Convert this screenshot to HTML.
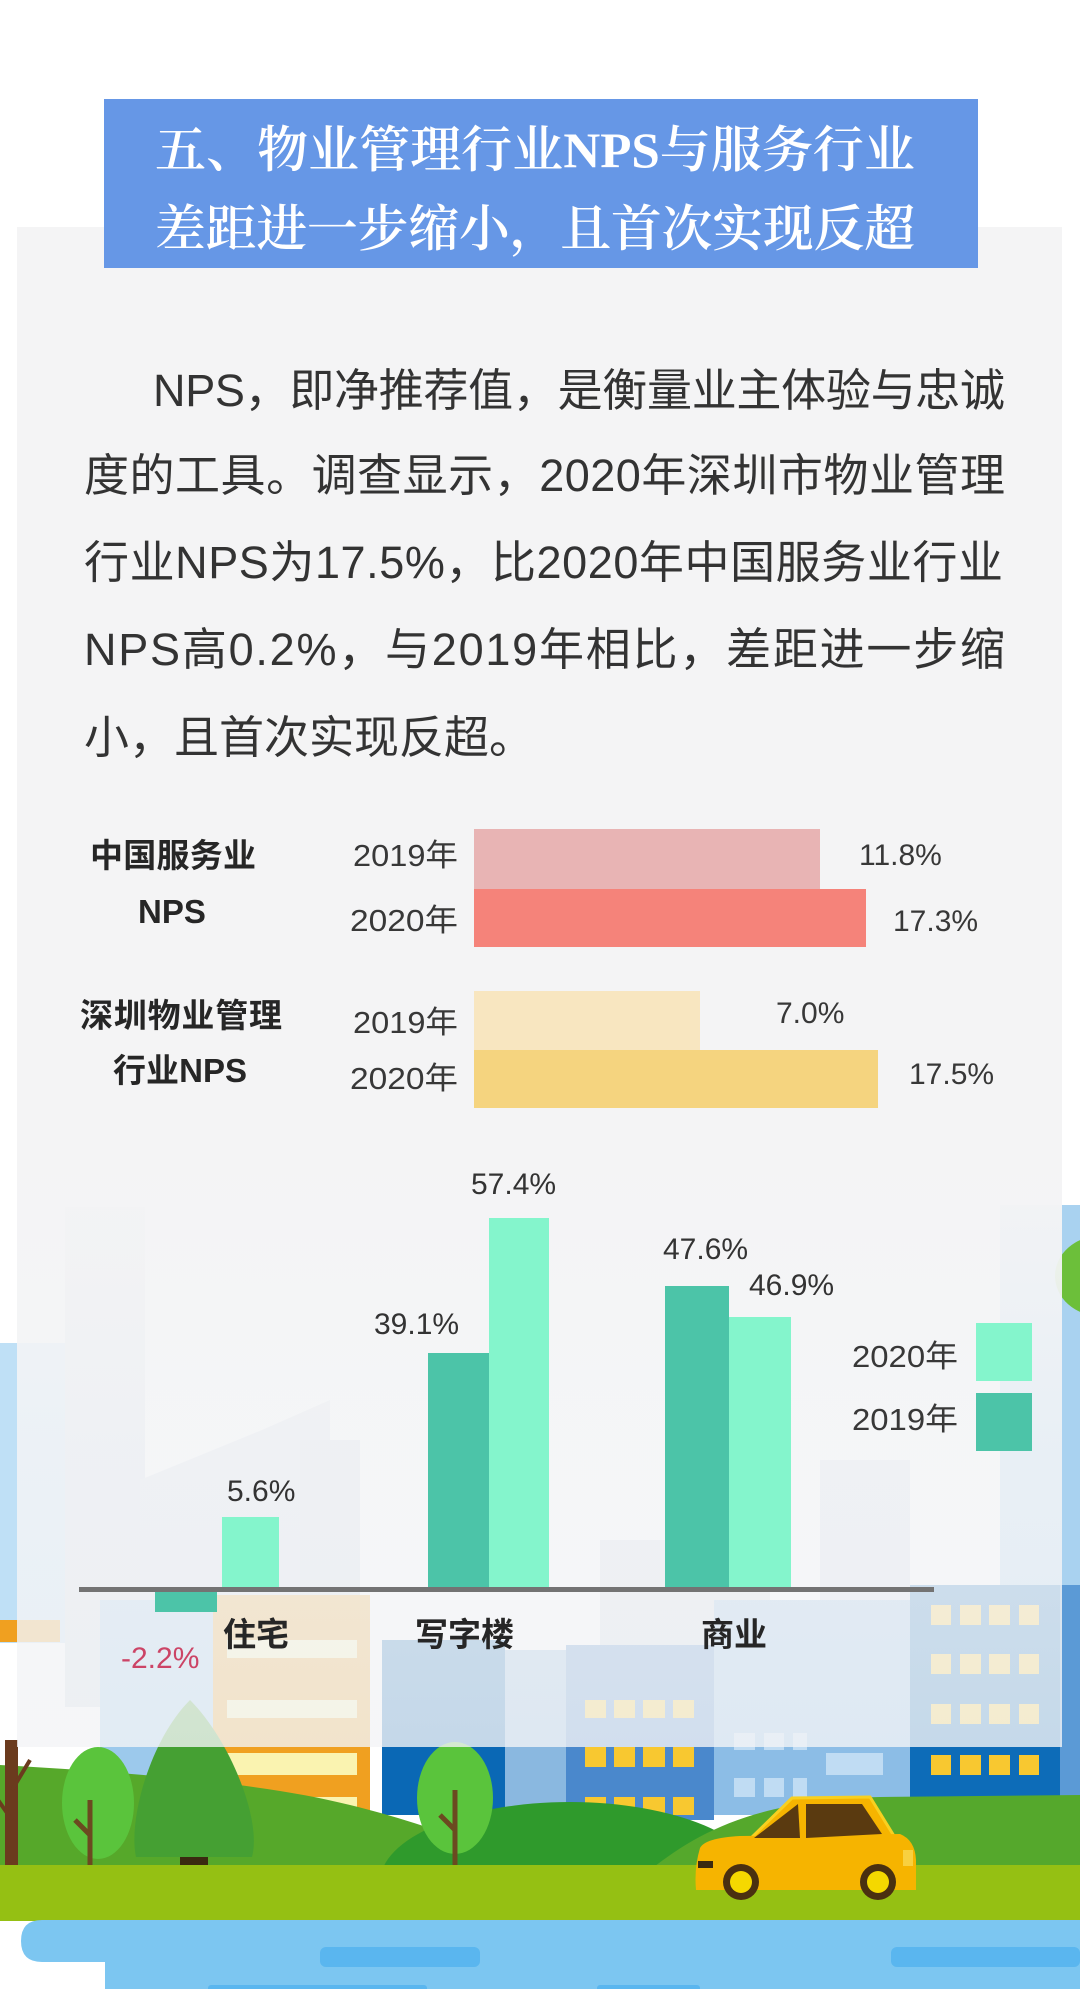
<!DOCTYPE html>
<html><head><meta charset="utf-8"><style>
html,body{margin:0;padding:0;background:#fff;}
svg{display:block;}
.s{font-family:"Liberation Sans","Noto Sans CJK SC",sans-serif;}
.t{font-family:"Liberation Serif","Noto Serif CJK SC",serif;}
</style></head><body>
<svg width="1080" height="1989" viewBox="0 0 1080 1989" xmlns="http://www.w3.org/2000/svg">
<defs>
<linearGradient id="ov" gradientUnits="userSpaceOnUse" x1="0" y1="227" x2="0" y2="1747">
<stop offset="0" stop-color="#f4f4f5" stop-opacity="1"/>
<stop offset="0.6" stop-color="#f4f4f5" stop-opacity="1"/>
<stop offset="0.8" stop-color="#f3f4f6" stop-opacity="0.86"/>
<stop offset="1" stop-color="#f3f4f6" stop-opacity="0.8"/>
</linearGradient>
</defs>
<rect width="1080" height="1989" fill="#fff"/>

<!-- ===== illustration ===== -->
<rect x="1000" y="1205" width="80" height="400" fill="#a9d2f0"/>
<ellipse cx="1100" cy="1276" rx="45" ry="40" fill="#6cbf3a"/>
<rect x="0" y="1343" width="70" height="300" fill="#bfe0f6"/>
<rect x="0" y="1620" width="60" height="22" fill="#f0a020"/>
<rect x="65" y="1207" width="80" height="500" fill="#d3dce6"/>
<polygon points="140,1480 262,1430 330,1400 330,1700 140,1700" fill="#d6dee8"/>
<rect x="300" y="1440" width="60" height="260" fill="#d0d9e3"/>
<rect x="600" y="1540" width="170" height="200" fill="#d3dce6"/>
<rect x="820" y="1460" width="90" height="260" fill="#d6dee8"/>
<rect x="100" y="1600" width="120" height="220" fill="#9cc9ec"/>
<rect x="213" y="1595" width="157" height="225" fill="#f0a020"/>
<rect x="227" y="1640" width="130" height="18" fill="#faf3b0"/>
<rect x="227" y="1700" width="130" height="18" fill="#faf3b0"/>
<rect x="227" y="1753" width="130" height="22" fill="#faf3b0"/>
<rect x="227" y="1797" width="130" height="14" fill="#faf3b0"/>
<rect x="382" y="1640" width="123" height="175" fill="#0a68b5"/>
<rect x="505" y="1650" width="61" height="165" fill="#8ab8e0"/>
<rect x="566" y="1645" width="148" height="175" fill="#4a88cc"/>
<g fill="#f8c830">
<rect x="585" y="1700" width="21" height="18"/><rect x="614" y="1700" width="21" height="18"/><rect x="643" y="1700" width="22" height="18"/><rect x="673" y="1700" width="21" height="18"/>
<rect x="585" y="1747" width="21" height="20"/><rect x="614" y="1747" width="21" height="20"/><rect x="643" y="1747" width="22" height="20"/><rect x="673" y="1747" width="21" height="20"/>
<rect x="585" y="1797" width="21" height="18"/><rect x="614" y="1797" width="21" height="18"/><rect x="643" y="1797" width="22" height="18"/><rect x="673" y="1797" width="21" height="18"/>
</g>
<rect x="714" y="1600" width="196" height="215" fill="#8cbde6"/>
<g fill="#c0dcf3">
<rect x="734" y="1733" width="21" height="17"/><rect x="764" y="1733" width="20" height="17"/><rect x="793" y="1733" width="14" height="17"/>
<rect x="734" y="1778" width="21" height="19"/><rect x="764" y="1778" width="20" height="19"/><rect x="793" y="1778" width="14" height="19"/>
<rect x="826" y="1753" width="57" height="22"/>
</g>
<rect x="910" y="1585" width="150" height="230" fill="#0d6cb8"/>
<g fill="#f8c830">
<rect x="931" y="1605" width="20" height="20"/><rect x="960" y="1605" width="21" height="20"/><rect x="989" y="1605" width="21" height="20"/><rect x="1019" y="1605" width="20" height="20"/>
<rect x="931" y="1654" width="20" height="20"/><rect x="960" y="1654" width="21" height="20"/><rect x="989" y="1654" width="21" height="20"/><rect x="1019" y="1654" width="20" height="20"/>
<rect x="931" y="1704" width="20" height="20"/><rect x="960" y="1704" width="21" height="20"/><rect x="989" y="1704" width="21" height="20"/><rect x="1019" y="1704" width="20" height="20"/>
<rect x="931" y="1755" width="20" height="20"/><rect x="960" y="1755" width="21" height="20"/><rect x="989" y="1755" width="21" height="20"/><rect x="1019" y="1755" width="20" height="20"/>
</g>
<rect x="1060" y="1585" width="20" height="230" fill="#5b9ad6"/>

<!-- hills -->
<path d="M0,1765 C120,1772 260,1782 350,1805 C420,1822 480,1845 540,1870 L0,1870 Z" fill="#56a82a"/>
<ellipse cx="570" cy="1882" rx="190" ry="80" fill="#2f9a2c"/>
<path d="M650,1870 C700,1830 760,1800 880,1797 L1080,1795 L1080,1870 Z" fill="#55a82c"/>

<!-- trees -->
<rect x="5" y="1740" width="13" height="125" fill="#6b3b1e"/>
<path d="M12,1790 L30,1760 M12,1820 L-2,1800" stroke="#6b3b1e" stroke-width="4"/>
<ellipse cx="98" cy="1803" rx="36" ry="56" fill="#5ac43c"/>
<path d="M90,1800 L90,1870 M90,1835 L75,1820" stroke="#6b4a20" stroke-width="5" fill="none"/>
<path d="M190,1700 C230,1740 262,1820 252,1857 L136,1857 C128,1820 150,1740 190,1700 Z" fill="#45a033"/>
<rect x="180" y="1857" width="28" height="9" fill="#3a2a10"/>
<ellipse cx="455" cy="1798" rx="38" ry="56" fill="#5ac43c"/>
<path d="M455,1790 L455,1868 M455,1830 L440,1815" stroke="#6b4a20" stroke-width="5" fill="none"/>

<!-- grass & water -->
<rect x="0" y="1865" width="1080" height="56" fill="#95c013"/>
<path d="M42,1920 L1080,1920 L1080,1989 L105,1989 L105,1962 L42,1962 Q21,1962 21,1941 Q21,1920 42,1920 Z" fill="#7cc6f1"/>
<g fill="#5ab6ef">
<rect x="320" y="1947" width="160" height="20" rx="6"/>
<rect x="891" y="1947" width="189" height="20" rx="6"/>
<rect x="208" y="1985" width="219" height="8" rx="3"/>
<rect x="597" y="1985" width="103" height="8" rx="3"/>
</g>

<!-- car -->
<path d="M747,1842 L792,1798 L870,1797 L894,1836 Z" fill="#f6b400" stroke="#f8d020" stroke-width="3"/>
<path d="M700,1848 Q705,1838 740,1836 L900,1834 Q915,1840 916,1860 L916,1890 L696,1890 Q694,1868 700,1848 Z" fill="#f6b400"/>
<path d="M754,1838 L798,1804 L800,1838 Z" fill="#5a3a10"/>
<path d="M806,1804 L862,1804 L882,1834 L806,1838 Z" fill="#5a3a10"/>
<rect x="698" y="1861" width="15" height="7" fill="#3a2a10"/>
<rect x="903" y="1850" width="10" height="16" fill="#f8d040"/>
<circle cx="741" cy="1882" r="18" fill="#4a3010"/><circle cx="741" cy="1882" r="11" fill="#f5d800"/>
<circle cx="878" cy="1882" r="18" fill="#4a3010"/><circle cx="878" cy="1882" r="11" fill="#f5d800"/>

<!-- ===== panel overlay ===== -->
<rect x="17" y="227" width="1045" height="1520" fill="url(#ov)"/>

<!-- ===== title ===== -->
<rect x="104" y="99" width="874" height="169" fill="#6697e6"/>
<text class="t" x="155" y="167" font-size="50" font-weight="600" fill="#ffffff" textLength="760" lengthAdjust="spacingAndGlyphs">五、物业管理行业NPS与服务行业</text>
<text class="t" x="155" y="246" font-size="50" font-weight="600" fill="#ffffff" textLength="760" lengthAdjust="spacingAndGlyphs">差距进一步缩小，且首次实现反超</text>

<!-- ===== body text ===== -->
<g class="s" font-size="45" fill="#333333">
<text x="153" y="406" textLength="852" lengthAdjust="spacing">NPS，即净推荐值，是衡量业主体验与忠诚</text>
<text x="84" y="491" textLength="921" lengthAdjust="spacing">度的工具。调查显示，2020年深圳市物业管理</text>
<text x="84" y="578" textLength="919" lengthAdjust="spacing">行业NPS为17.5%，比2020年中国服务业行业</text>
<text x="84" y="665" textLength="921" lengthAdjust="spacing">NPS高0.2%，与2019年相比，差距进一步缩</text>
<text x="84" y="753">小，且首次实现反超。</text>
</g>

<!-- ===== chart 1 ===== -->
<rect x="474" y="829" width="346" height="60" fill="#e8b4b4"/>
<rect x="474" y="889" width="392" height="58" fill="#f5837a"/>
<rect x="474" y="991" width="226" height="59" fill="#f8e6c0"/>
<rect x="474" y="1050" width="404" height="58" fill="#f5d47f"/>
<g class="s" font-size="33" font-weight="bold" fill="#262626">
<text x="90" y="867" textLength="166">中国服务业</text>
<text x="138" y="923">NPS</text>
<text x="80" y="1027" textLength="202">深圳物业管理</text>
<text x="113" y="1082" textLength="134">行业NPS</text>
</g>
<g class="s" font-size="31" fill="#383838">
<text x="353" y="866" textLength="105" lengthAdjust="spacingAndGlyphs">2019年</text>
<text x="350" y="931" textLength="108" lengthAdjust="spacingAndGlyphs">2020年</text>
<text x="353" y="1033" textLength="105" lengthAdjust="spacingAndGlyphs">2019年</text>
<text x="350" y="1089" textLength="108" lengthAdjust="spacingAndGlyphs">2020年</text>
</g>
<g class="s" font-size="30" fill="#383838">
<text x="859" y="865">11.8%</text>
<text x="893" y="931">17.3%</text>
<text x="776" y="1023">7.0%</text>
<text x="909" y="1084">17.5%</text>
</g>

<!-- ===== chart 2 ===== -->
<rect x="155" y="1589" width="62" height="23" fill="#4cc4a8"/>
<rect x="222" y="1517" width="57" height="71" fill="#84f5cc"/>
<rect x="428" y="1353" width="61" height="235" fill="#4cc4a8"/>
<rect x="489" y="1218" width="60" height="370" fill="#84f5cc"/>
<rect x="665" y="1286" width="64" height="304" fill="#4cc4a8"/>
<rect x="729" y="1317" width="62" height="271" fill="#84f5cc"/>
<rect x="79" y="1587" width="855" height="5" fill="#737373"/>
<rect x="976" y="1323" width="56" height="58" fill="#84f5cc"/>
<rect x="976" y="1393" width="56" height="58" fill="#4cc4a8"/>
<g class="s" font-size="30" fill="#333333">
<text x="471" y="1194">57.4%</text>
<text x="374" y="1334">39.1%</text>
<text x="663" y="1259">47.6%</text>
<text x="749" y="1295">46.9%</text>
<text x="227" y="1501">5.6%</text>
<text x="121" y="1668" fill="#cc4466">-2.2%</text>
</g>
<g class="s" font-size="31" fill="#383838">
<text x="852" y="1367" textLength="106" lengthAdjust="spacingAndGlyphs">2020年</text>
<text x="852" y="1430" textLength="106" lengthAdjust="spacingAndGlyphs">2019年</text>
</g>
<g class="s" font-size="33" font-weight="bold" fill="#262626">
<text x="223" y="1646">住宅</text>
<text x="415" y="1646">写字楼</text>
<text x="701" y="1646">商业</text>
</g>
</svg>
</body></html>
